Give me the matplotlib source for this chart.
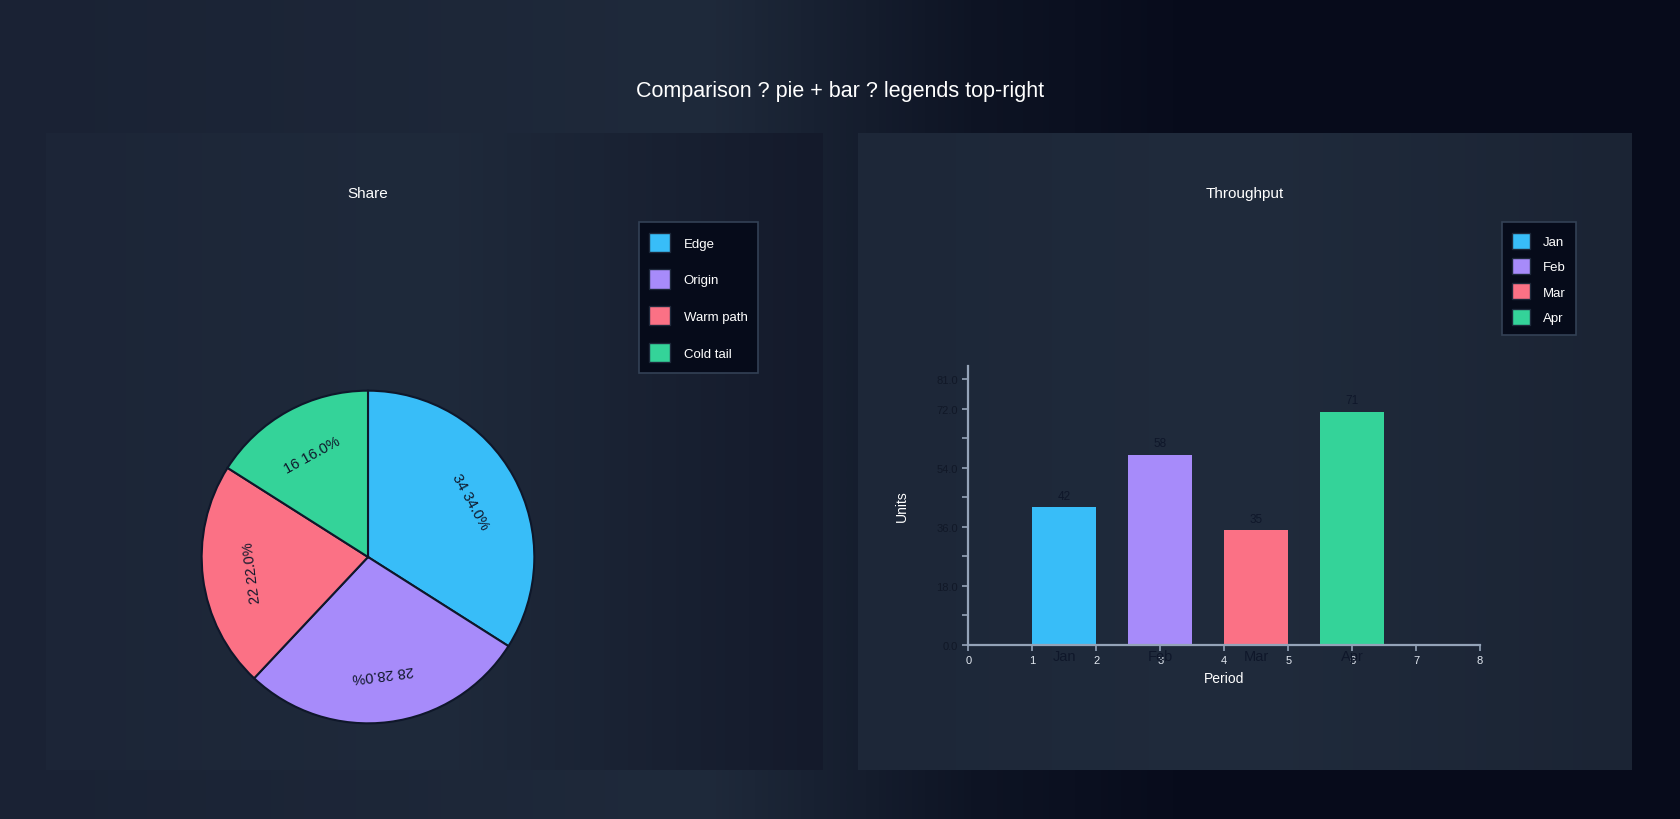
import numpy as np
import matplotlib
matplotlib.use("Agg")
import matplotlib.pyplot as plt
from matplotlib.colors import LinearSegmentedColormap
from matplotlib.patches import Patch

plt.rcParams["font.family"] = ["Liberation Sans", "DejaVu Sans"]

# data
share_labels = ["Edge", "Origin", "Warm path", "Cold tail"]
share_values = [34, 28, 22, 16]
months = ["Jan", "Feb", "Mar", "Apr"]
units = [42, 58, 35, 71]
bar_pos = [1.5, 3.0, 4.5, 6.0]
ytick_vals = [0, 9, 18, 27, 36, 45, 54, 63, 72, 81]
ytick_text = ["0.0", "", "18.0", "", "36.0", "", "54.0", "", "72.0", "81.0"]

colors = ["#38bdf8", "#a78bfa", "#fb7185", "#34d399"]
dark = "#0f172a"

W, H = 1680, 820
fig = plt.figure(figsize=(W / 100, H / 100), dpi=100)


def grad(ax, stops):
    cmap = LinearSegmentedColormap.from_list("g", stops)
    g = np.linspace(0, 1, 256).reshape(1, -1)
    ax.imshow(g, cmap=cmap, aspect="auto", extent=(0, 1, 0, 1), zorder=0,
              interpolation="bicubic")


# page background
bg = fig.add_axes([0, 0, 1, 1], zorder=-10)
grad(bg, [(0.0, "#1a2234"), (0.42, "#1f2a3b"), (0.58, "#0e1424"),
          (0.7, "#080c1c"), (1.0, "#070b1b")])
bg.set_xlim(0, 1); bg.set_ylim(0, 1); bg.axis("off")

# panels
for x0, x1, stops in [(46, 822, [(0, "#1c2537"), (0.5, "#1f2a3b"), (1, "#141a2b")]),
                      (858, 1632, [(0, "#1d2738"), (0.5, "#202b3c"), (1, "#1b2434")])]:
    pax = fig.add_axes([x0 / W, 1 - 771 / H, (x1 - x0) / W, (771 - 134) / H], zorder=-9)
    grad(pax, stops)
    pax.set_xlim(0, 1); pax.set_ylim(0, 1); pax.axis("off")

fig.text(0.5, 1 - 91 / H, "Comparison ? pie + bar ? legends top-right",
         ha="center", va="center", color="white", fontsize=15.5)
fig.text(368 / W, 1 - 194 / H, "Share", ha="center", va="center",
         color="white", fontsize=11)
fig.text(1245 / W, 1 - 194 / H, "Throughput", ha="center", va="center",
         color="white", fontsize=11)

# pie
r = 168
pie_ax = fig.add_axes([(368 - r) / W, 1 - (558 + r) / H, 2 * r / W, 2 * r / H])
wedges, _ = pie_ax.pie(share_values, colors=colors, startangle=90,
                       counterclock=False, radius=1,
                       wedgeprops=dict(edgecolor=dark, linewidth=1.5))
total = sum(share_values)
for w, v in zip(wedges, share_values):
    mid = 0.5 * (w.theta1 + w.theta2)
    a = np.deg2rad(mid)
    pie_ax.text(0.7 * np.cos(a), 0.7 * np.sin(a), f"{v} {100 * v / total:.1f}%",
                ha="center", va="center", rotation=mid - 90,
                rotation_mode="anchor", color=dark, fontsize=10.5)
pie_ax.set_xlim(-1.01, 1.01); pie_ax.set_ylim(-1.01, 1.01)
pie_ax.axis("off")

leg_kw = dict(facecolor="#060b1a", edgecolor="#334155", labelcolor="white",
              framealpha=1, fancybox=False, handletextpad=1.0,
              borderpad=0.8, borderaxespad=0, fontsize=9.5)
h1 = [Patch(facecolor=c, edgecolor="#1e293b", label=l)
      for c, l in zip(colors, share_labels)]
l1 = fig.legend(handles=h1, loc="upper right",
                bbox_to_anchor=(758 / W, 1 - 223 / H),
                handlelength=1.6, handleheight=1.9, labelspacing=1.3,
                **leg_kw)
l1.get_frame().set_linewidth(1.2)

# bars
bax = fig.add_axes([968.5 / W, 1 - 646 / H, (1480 - 968.5) / W, (646 - 367) / H])
bax.set_facecolor("none")
bax.bar(bar_pos, units, width=1.0, color=colors, edgecolor="none")
for x, v, m in zip(bar_pos, units, months):
    bax.annotate(str(v), (x, v), xytext=(0, 4), textcoords="offset points",
                 ha="center", va="bottom", color=dark, fontsize=8.5)
    bax.annotate(m, (x, 0), xytext=(0, -3), textcoords="offset points",
                 ha="center", va="top", color=dark, fontsize=10.5)
bax.set_xlim(0, 8)
bax.set_ylim(0, 85)
bax.set_xticks(range(9))
bax.set_yticks(ytick_vals)
bax.set_yticklabels(ytick_text)
for s in ["top", "right"]:
    bax.spines[s].set_visible(False)
for s in ["left", "bottom"]:
    bax.spines[s].set_color("#94a3b8")
    bax.spines[s].set_linewidth(1.6)
bax.tick_params(axis="x", colors="#94a3b8", labelcolor="#e2e8f0",
                labelsize=8, length=4, width=1.2)
bax.tick_params(axis="y", colors="#94a3b8", labelcolor="#111827",
                labelsize=8, length=4, width=1.2)
bax.set_xlabel("Period", color="white", fontsize=10, labelpad=4)
bax.set_ylabel("Units", color="white", fontsize=10, labelpad=20)

h2 = [Patch(facecolor=c, edgecolor="#1e293b", label=l)
      for c, l in zip(colors, months)]
l2 = fig.legend(handles=h2, loc="upper right",
                bbox_to_anchor=(1576 / W, 1 - 223 / H),
                handlelength=1.3, handleheight=1.5, labelspacing=0.7,
                **leg_kw)
l2.get_frame().set_linewidth(1.2)

fig.savefig("out.png", dpi=100, facecolor="#0b1020")
